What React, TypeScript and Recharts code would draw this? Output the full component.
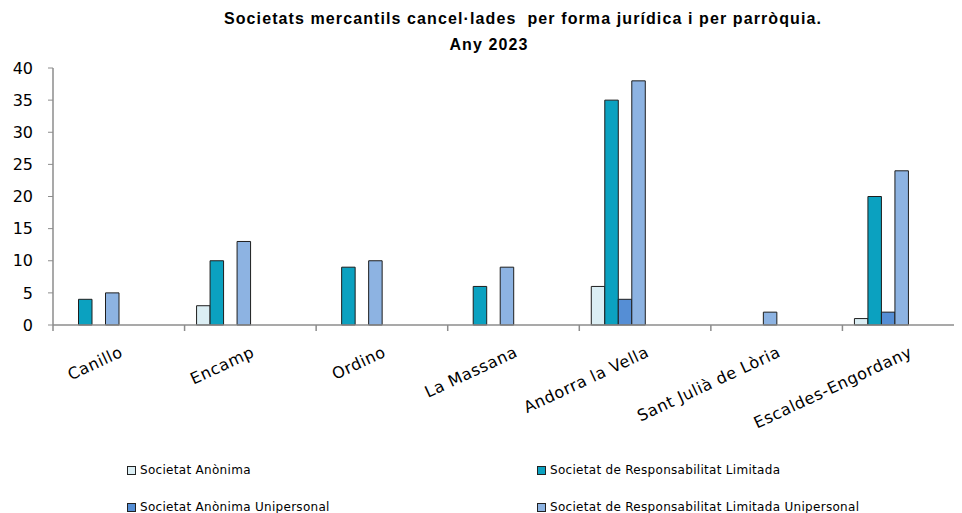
import { BarChart, Bar, XAxis, YAxis, Legend } from "recharts"

const parroquies = [
  "Canillo",
  "Encamp",
  "Ordino",
  "La Massana",
  "Andorra la Vella",
  "Sant Julià de Lòria",
  "Escaldes-Engordany",
]
const societatAnonima = [0, 3, 0, 0, 6, 0, 1]
const societatRespLimitada = [4, 10, 9, 6, 35, 0, 20]
const societatAnonimaUnipersonal = [0, 0, 0, 0, 4, 0, 2]
const societatRespLimitadaUnipersonal = [5, 13, 10, 9, 38, 2, 24]
const yTicks = [0, 5, 10, 15, 20, 25, 30, 35, 40]

const series = [
  { key: "sa", name: "Societat Anònima", color: "#DBEEF4" },
  { key: "srl", name: "Societat de Responsabilitat Limitada", color: "#0BA1C0" },
  { key: "sau", name: "Societat Anònima Unipersonal", color: "#558ED5" },
  { key: "srlu", name: "Societat de Responsabilitat Limitada Unipersonal", color: "#8DB3E2" },
]

const data = parroquies.map((p, i) => ({
  parroquia: p,
  sa: societatAnonima[i],
  srl: societatRespLimitada[i],
  sau: societatAnonimaUnipersonal[i],
  srlu: societatRespLimitadaUnipersonal[i],
}))

const AXIS = "#8C8C8C"
const FONT = "'DejaVu Sans', Verdana, sans-serif"
const Y_AXIS_WIDTH = 53
const TICK_GAP = 20

// rotated label, plus the tick mark on the boundary between parishes
function CategoryTick(props: any) {
  const { x, y, payload, index } = props
  const i = Number(index) || 0
  const band = (x - Y_AXIS_WIDTH) / (i + 0.5)
  const axisY = y - TICK_GAP
  const left = x - band / 2
  const right = x + band / 2
  return (
    <g>
      <line x1={left} x2={left} y1={axisY} y2={axisY + 6} stroke={AXIS} strokeWidth={1.5} />
      {i === parroquies.length - 1 && (
        <line x1={right} x2={right} y1={axisY} y2={axisY + 6} stroke={AXIS} strokeWidth={1.5} />
      )}
      <text
        x={x}
        y={y}
        dy={12}
        transform={`rotate(-25 ${x} ${y})`}
        textAnchor="end"
        fontSize={16}
        letterSpacing={0.6}
        fontFamily={FONT}
        fill="#000"
      >
        {payload.value}
      </text>
    </g>
  )
}

function LegendBox() {
  const pos = [
    { left: 127, top: 31 },
    { left: 537, top: 31 },
    { left: 127, top: 68 },
    { left: 537, top: 68 },
  ]
  return (
    <div style={{ position: "relative", height: 73, width: 962 }}>
      {series.map((s, i) => (
        <div
          key={s.key}
          style={{
            position: "absolute",
            left: pos[i].left,
            top: pos[i].top - 8,
            display: "flex",
            alignItems: "center",
            fontFamily: FONT,
            fontSize: 12,
            letterSpacing: 0.3,
            color: "#000",
            whiteSpace: "nowrap",
          }}
        >
          <span
            style={{
              display: "inline-block",
              width: 7,
              height: 7,
              background: s.color,
              border: "1px solid #222",
              marginRight: 4,
            }}
          />
          {s.name}
        </div>
      ))}
    </div>
  )
}

export default function App() {
  return (
    <div
      style={{
        position: "relative",
        marginLeft: -8,
        marginTop: -8,
        width: 962,
        height: 513,
        overflow: "hidden",
        background: "#fff",
      }}
    >
      {/* Title */}
      <div
        style={{
          position: "absolute",
          top: 6,
          left: 0,
          width: 1046,
          textAlign: "center",
          fontFamily: "'Liberation Sans', Arial, sans-serif",
          fontWeight: "bold",
          fontSize: 16,
          letterSpacing: 1.1,
          lineHeight: "26px",
          color: "#000",
          zIndex: 1,
        }}
      >
        Societats mercantils cancel·lades&nbsp; per forma jurídica i per parròquia.
      </div>
      <div
        style={{
          position: "absolute",
          top: 32,
          left: 0,
          width: 978,
          textAlign: "center",
          fontFamily: "'Liberation Sans', Arial, sans-serif",
          fontWeight: "bold",
          fontSize: 16,
          letterSpacing: 1.1,
          lineHeight: "26px",
          color: "#000",
          zIndex: 1,
        }}
      >
        Any 2023
      </div>

      <BarChart
        width={974}
        height={513}
        data={data}
        barGap={0}
        margin={{ top: 68, right: 0, bottom: 0, left: 0 }}
      >
        <XAxis
          dataKey="parroquia"
          interval={0}
          axisLine={{ stroke: AXIS, strokeWidth: 1.5 }}
          tickLine={false}
          tickSize={0}
          tickMargin={TICK_GAP}
          tick={<CategoryTick />}
          height={115}
        />
        <YAxis
          domain={[0, 40]}
          ticks={yTicks}
          interval={0}
          width={Y_AXIS_WIDTH}
          axisLine={{ stroke: AXIS, strokeWidth: 1.5 }}
          tickLine={{ stroke: AXIS }}
          tickSize={5}
          tickMargin={15}
          tick={{ fontSize: 16, fontFamily: FONT, fill: "#000" }}
        />
        <Legend verticalAlign="bottom" height={73} content={() => <LegendBox />} wrapperStyle={{ left: 0 }} />
        {series.map((s) => (
          <Bar
            key={s.key}
            dataKey={s.key}
            name={s.name}
            fill={s.color}
            stroke="#1E1E1E"
            strokeWidth={1}
            barSize={13.5}
            isAnimationActive={false}
          />
        ))}
        {/* empty slot: the original leaves room for four more series */}
        <Bar dataKey="buit" legendType="none" barSize={54} isAnimationActive={false} />
      </BarChart>
    </div>
  )
}
